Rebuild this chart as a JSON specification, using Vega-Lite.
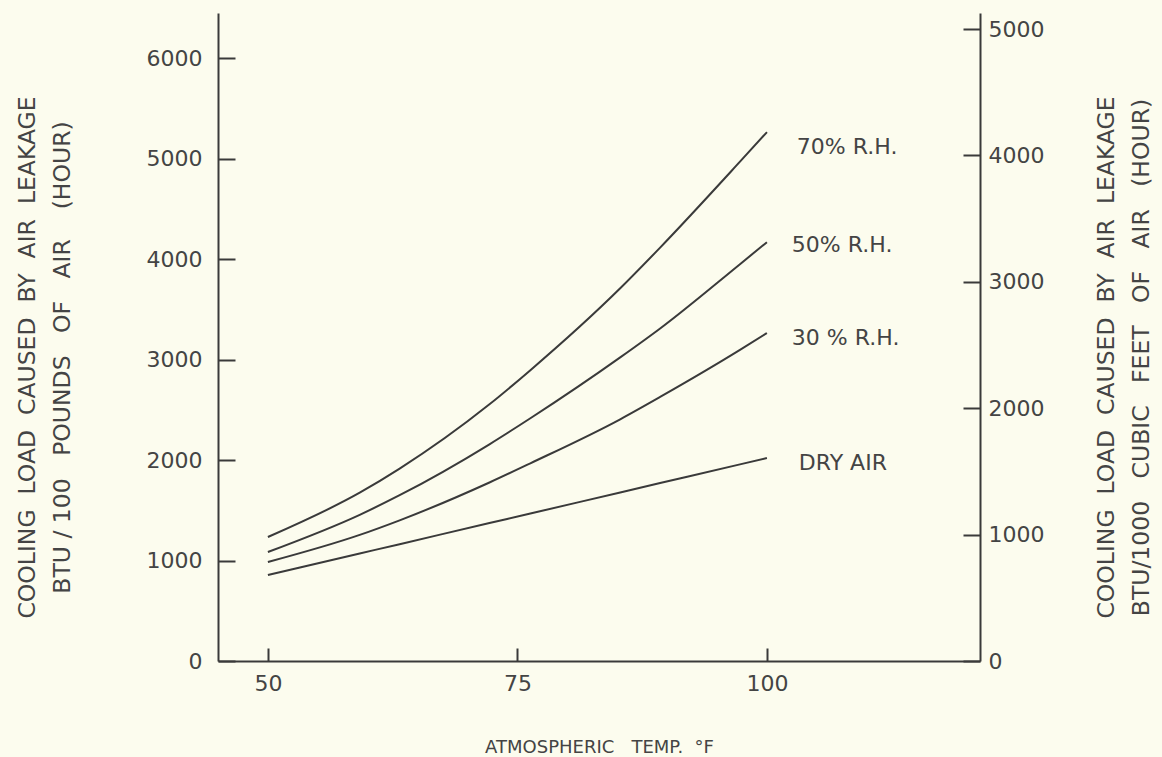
{
  "$schema": "https://vega.github.io/schema/vega-lite/v6.json",
  "autosize": "none",
  "width": 762,
  "height": 648,
  "padding": {"left": 218, "top": 13, "right": 182, "bottom": 96},
  "background": "#fcfcee",
  "config": {
    "view": {"stroke": null},
    "font": "DejaVu Sans",
    "axis": {
      "grid": false,
      "domainColor": "#3a3a3a",
      "domainWidth": 2,
      "tickColor": "#3a3a3a",
      "tickWidth": 2,
      "labelColor": "#444444",
      "labelFont": "DejaVu Sans",
      "labelFontSize": 22,
      "titleColor": "#444444",
      "titleFont": "DejaVu Sans",
      "titleFontWeight": "normal"
    }
  },
  "datasets": {
    "curves": [
      {"t": 50, "load": 1234, "series": "70% R.H."},
      {"t": 59.2, "load": 1675, "series": "70% R.H."},
      {"t": 63.2, "load": 1915, "series": "70% R.H."},
      {"t": 72.2, "load": 2555, "series": "70% R.H."},
      {"t": 76.3, "load": 2895, "series": "70% R.H."},
      {"t": 85.3, "load": 3710, "series": "70% R.H."},
      {"t": 89.3, "load": 4115, "series": "70% R.H."},
      {"t": 97.3, "load": 4970, "series": "70% R.H."},
      {"t": 100, "load": 5264, "series": "70% R.H."},
      {"t": 50, "load": 1085, "series": "50% R.H."},
      {"t": 59.2, "load": 1455, "series": "50% R.H."},
      {"t": 63.2, "load": 1650, "series": "50% R.H."},
      {"t": 72.2, "load": 2157, "series": "50% R.H."},
      {"t": 76.3, "load": 2416, "series": "50% R.H."},
      {"t": 85.3, "load": 3022, "series": "50% R.H."},
      {"t": 89.3, "load": 3310, "series": "50% R.H."},
      {"t": 97.3, "load": 3950, "series": "50% R.H."},
      {"t": 100, "load": 4169, "series": "50% R.H."},
      {"t": 50, "load": 985, "series": "30% R.H."},
      {"t": 59.2, "load": 1255, "series": "30% R.H."},
      {"t": 63.2, "load": 1400, "series": "30% R.H."},
      {"t": 72.2, "load": 1777, "series": "30% R.H."},
      {"t": 76.3, "load": 1968, "series": "30% R.H."},
      {"t": 85.3, "load": 2406, "series": "30% R.H."},
      {"t": 89.3, "load": 2628, "series": "30% R.H."},
      {"t": 97.3, "load": 3096, "series": "30% R.H."},
      {"t": 100, "load": 3264, "series": "30% R.H."},
      {"t": 50, "load": 856, "series": "DRY AIR"},
      {"t": 59.2, "load": 1070, "series": "DRY AIR"},
      {"t": 63.2, "load": 1163, "series": "DRY AIR"},
      {"t": 72.2, "load": 1373, "series": "DRY AIR"},
      {"t": 76.3, "load": 1468, "series": "DRY AIR"},
      {"t": 85.3, "load": 1678, "series": "DRY AIR"},
      {"t": 89.3, "load": 1771, "series": "DRY AIR"},
      {"t": 97.3, "load": 1957, "series": "DRY AIR"},
      {"t": 100, "load": 2020, "series": "DRY AIR"}
    ],
    "labels": [
      {"t": 103.0, "load": 5114, "label": "70% R.H."},
      {"t": 102.5, "load": 4139, "label": "50% R.H."},
      {"t": 102.5, "load": 3214, "label": "30 % R.H."},
      {"t": 103.2, "load": 1970, "label": "DRY AIR"}
    ],
    "right": [
      {"v": 0},
      {"v": 5000}
    ]
  },
  "layer": [
    {
      "layer": [
        {
          "data": {"name": "curves"},
          "mark": {"type": "line", "interpolate": "monotone", "color": "#3a3a3a", "strokeWidth": 2},
          "encoding": {
            "x": {
              "field": "t",
              "type": "quantitative",
              "scale": {"domain": [45, 121.35], "nice": false, "zero": false},
              "axis": {
                "values": [50, 75, 100],
                "tickSize": -13,
                "labelPadding": 25,
                "title": "ATMOSPHERIC\u00a0\u00a0 TEMP.\u00a0 °F",
                "titleFontSize": 18,
                "titlePadding": 44
              }
            },
            "y": {
              "field": "load",
              "type": "quantitative",
              "scale": {"domain": [0, 6450], "nice": false},
              "axis": {
                "values": [0, 1000, 2000, 3000, 4000, 5000, 6000],
                "format": "d",
                "tickSize": -17,
                "labelPadding": 33,
                "title": ["COOLING\u00a0 LOAD\u00a0 CAUSED\u00a0 BY\u00a0 AIR\u00a0 LEAKAGE", "BTU / 100\u00a0\u00a0 POUNDS\u00a0\u00a0 OF\u00a0\u00a0 AIR\u00a0\u00a0\u00a0 (HOUR)"],
                "titleFontSize": 23.5,
                "titleLineHeight": 35,
                "titlePadding": 72,
                "titleY": 344
              }
            },
            "detail": {"field": "series"}
          }
        },
        {
          "data": {"name": "labels"},
          "mark": {"type": "text", "align": "left", "baseline": "middle", "fontSize": 22, "color": "#444444", "font": "DejaVu Sans"},
          "encoding": {
            "x": {"field": "t", "type": "quantitative"},
            "y": {"field": "load", "type": "quantitative"},
            "text": {"field": "label"}
          }
        }
      ]
    },
    {
      "data": {"name": "right"},
      "mark": {"type": "point", "opacity": 0},
      "encoding": {
        "y": {
          "field": "v",
          "type": "quantitative",
          "scale": {"domain": [0, 5127], "nice": false},
          "axis": {
            "orient": "right",
            "values": [0, 1000, 2000, 3000, 4000, 5000],
            "format": "d",
            "tickSize": -17,
            "labelPadding": 25,
            "title": ["COOLING\u00a0 LOAD\u00a0 CAUSED\u00a0 BY\u00a0 AIR\u00a0 LEAKAGE", "BTU/1000\u00a0\u00a0 CUBIC\u00a0\u00a0 FEET\u00a0\u00a0 OF\u00a0\u00a0 AIR\u00a0\u00a0 (HOUR)"],
            "titleAngle": -90,
            "titleFontSize": 23.5,
            "titleLineHeight": 35,
            "titlePadding": 40,
            "titleY": 344
          }
        }
      }
    }
  ],
  "resolve": {"scale": {"y": "independent"}}
}
